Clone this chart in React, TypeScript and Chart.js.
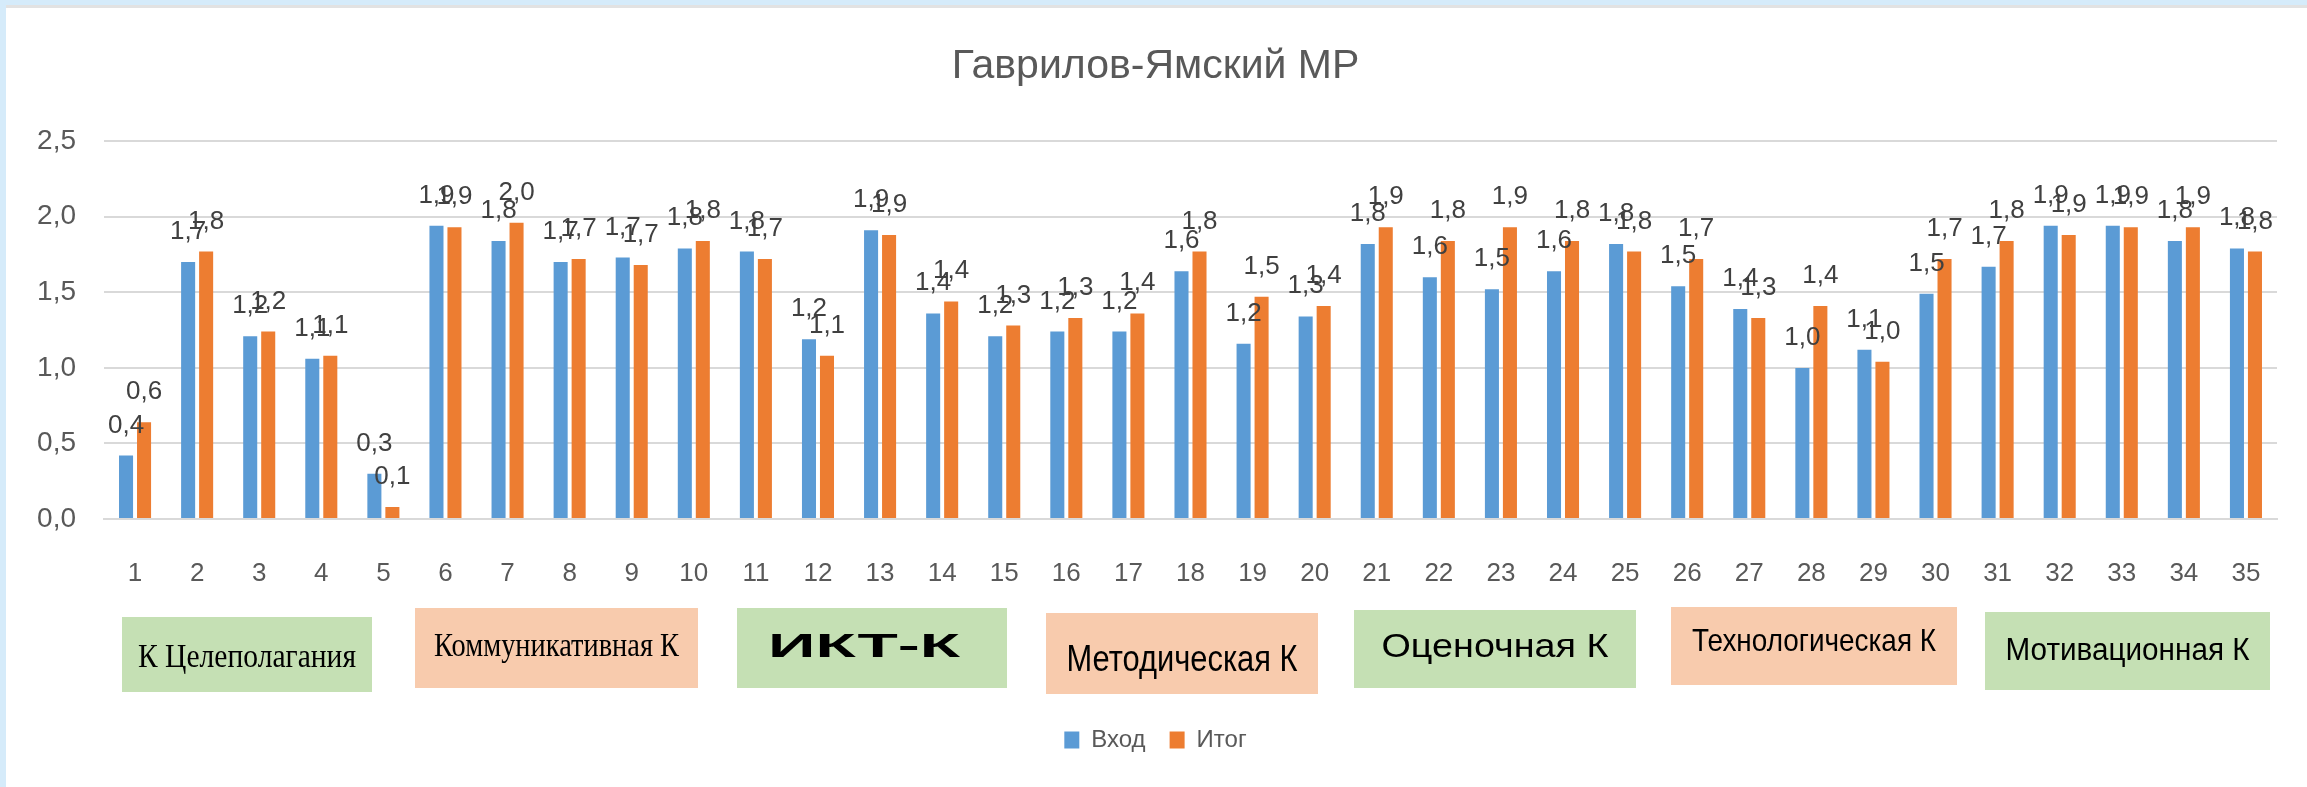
import React, { useEffect, useRef } from 'react';
import { Chart, registerables } from 'chart.js';

Chart.register(...registerables);

// ---- data ----
const categories = [
  '1', '2', '3', '4', '5', '6', '7', '8', '9', '10',
  '11', '12', '13', '14', '15', '16', '17', '18', '19', '20',
  '21', '22', '23', '24', '25', '26', '27', '28', '29', '30',
  '31', '32', '33', '34', '35',
];

const vhodValues = [
  0.42, 1.70, 1.21, 1.06, 0.30, 1.94, 1.84, 1.70, 1.73, 1.79,
  1.77, 1.19, 1.91, 1.36, 1.21, 1.24, 1.24, 1.64, 1.16, 1.34,
  1.82, 1.60, 1.52, 1.64, 1.82, 1.54, 1.39, 1.00, 1.12, 1.49,
  1.67, 1.94, 1.94, 1.84, 1.79,
];

const itogValues = [
  0.64, 1.77, 1.24, 1.08, 0.08, 1.93, 1.96, 1.72, 1.68, 1.84,
  1.72, 1.08, 1.88, 1.44, 1.28, 1.33, 1.36, 1.77, 1.47, 1.41,
  1.93, 1.84, 1.93, 1.84, 1.77, 1.72, 1.33, 1.41, 1.04, 1.72,
  1.84, 1.88, 1.93, 1.93, 1.77,
];

const seriesNames = ['Вход', 'Итог'];
const chartTitle = 'Гаврилов-Ямский МР';

const groupNames = [
  'К Целеполагания',
  'Коммуникативная К',
  'ИКТ-К',
  'Методическая К',
  'Оценочная К',
  'Технологическая К',
  'Мотивационная К',
];

// ---- styling / layout (not data) ----
const BLUE = '#5B9BD5';
const ORANGE = '#ED7D31';
const GREEN_BOX = '#C5E0B4';
const PEACH_BOX = '#F8CBAD';
const SANS = '"Liberation Sans", Arial, sans-serif';
const SERIF = '"Liberation Serif", "Times New Roman", serif';

const groupLayout = [
  { x0: 122, x1: 372, y0: 617, y1: 692, fill: GREEN_BOX, family: SERIF, size: 34, weight: 'normal', capY: 655, width: 218, dx: 0 },
  { x0: 415, x1: 698, y0: 608, y1: 688, fill: PEACH_BOX, family: SERIF, size: 34, weight: 'normal', capY: 644, width: 245, dx: 0 },
  { x0: 737, x1: 1007, y0: 608, y1: 688, fill: GREEN_BOX, family: SANS, size: 34, weight: 'bold', capY: 645, width: 192, dx: -8 },
  { x0: 1046, x1: 1318, y0: 613, y1: 694, fill: PEACH_BOX, family: SANS, size: 36, weight: 'normal', capY: 658, width: 231, dx: 0 },
  { x0: 1354, x1: 1636, y0: 610, y1: 688, fill: GREEN_BOX, family: SANS, size: 33, weight: 'normal', capY: 645, width: 227, dx: 0 },
  { x0: 1671, x1: 1957, y0: 607, y1: 685, fill: PEACH_BOX, family: SANS, size: 32, weight: 'normal', capY: 640, width: 244, dx: 0 },
  { x0: 1985, x1: 2270, y0: 612, y1: 690, fill: GREEN_BOX, family: SANS, size: 31, weight: 'normal', capY: 649, width: 244, dx: 0 },
];

const fmt = (v: number) => v.toFixed(1).replace('.', ',');

const valueLabelsPlugin = {
  id: 'valueLabels',
  afterDatasetsDraw(chart: any) {
    const ctx = chart.ctx;
    ctx.save();
    ctx.font = `26px ${SANS}`;
    ctx.fillStyle = '#404040';
    ctx.textAlign = 'center';
    ctx.textBaseline = 'alphabetic';
    chart.data.datasets.forEach((ds: any, i: number) => {
      const meta = chart.getDatasetMeta(i);
      meta.data.forEach((el: any, j: number) => {
        const v = ds.data[j];
        ctx.fillText(fmt(v), el.x, el.y - 23);
      });
    });
    ctx.restore();
  },
};

const groupBoxesPlugin = {
  id: 'groupBoxes',
  afterDraw(chart: any) {
    const ctx = chart.ctx;
    ctx.save();
    groupNames.forEach((name, i) => {
      const g = groupLayout[i];
      ctx.fillStyle = g.fill;
      ctx.fillRect(g.x0, g.y0, g.x1 - g.x0, g.y1 - g.y0);
      ctx.font = `${g.weight} ${g.size}px ${g.family}`;
      const w = ctx.measureText(name).width;
      const sx = g.width / w;
      const cx = (g.x0 + g.x1) / 2 + g.dx;
      ctx.save();
      ctx.translate(cx, g.capY + g.size * 0.35);
      ctx.scale(sx, 1);
      ctx.fillStyle = '#000000';
      ctx.textAlign = 'center';
      ctx.textBaseline = 'alphabetic';
      ctx.fillText(name, 0, 0);
      ctx.restore();
    });
    ctx.restore();
  },
};

export default function App() {
  const canvasRef = useRef<HTMLCanvasElement | null>(null);

  useEffect(() => {
    if (!canvasRef.current) return;
    const chart = new Chart(canvasRef.current, {
      type: 'bar',
      data: {
        labels: categories,
        datasets: [
          {
            label: seriesNames[0],
            data: vhodValues,
            backgroundColor: BLUE,
            borderWidth: 0,
            barPercentage: 0.78,
            categoryPercentage: 0.58,
          },
          {
            label: seriesNames[1],
            data: itogValues,
            backgroundColor: ORANGE,
            borderWidth: 0,
            barPercentage: 0.78,
            categoryPercentage: 0.58,
          },
        ],
      },
      options: {
        responsive: false,
        animation: false,
        devicePixelRatio: 1,
        layout: { padding: { top: 0, right: 30, bottom: 25, left: 34 } },
        plugins: {
          title: {
            display: true,
            text: chartTitle,
            color: '#595959',
            font: { family: SANS, size: 41, weight: 'normal' },
            padding: { top: 42, bottom: 50 },
          },
          legend: {
            display: true,
            position: 'bottom',
            labels: {
              color: '#595959',
              font: { family: SANS, size: 24 },
              boxWidth: 15,
              boxHeight: 17,
              padding: 24,
            },
          },
          tooltip: { enabled: false },
        },
        scales: {
          x: {
            grid: { display: false, drawTicks: false },
            border: { display: true, color: '#d9d9d9', width: 2 },
            ticks: {
              color: '#595959',
              font: { family: SANS, size: 26 },
              padding: 39,
              maxRotation: 0,
              autoSkip: false,
            },
            afterFit: (s: any) => { s.height = 185; },
          },
          y: {
            min: 0,
            max: 2.5,
            grid: { color: '#d9d9d9', lineWidth: 2, drawTicks: false },
            border: { display: false },
            ticks: {
              stepSize: 0.5,
              color: '#595959',
              font: { family: SANS, size: 28 },
              padding: 28,
              callback: (v: any) => fmt(Number(v)),
            },
            afterFit: (s: any) => { s.width = 70; },
          },
        },
      },
      plugins: [valueLabelsPlugin, groupBoxesPlugin],
    });
    return () => chart.destroy();
  }, []);

  return (
    <div style={{ position: 'absolute', left: 0, top: 0, width: 2307, height: 787, overflow: 'hidden', background: '#d5ebfa' }}>
      <div style={{ position: 'absolute', left: 6, top: 5, right: 0, bottom: 0, background: '#ffffff', borderTop: '3px solid #e2e2e2' }} />
      <canvas ref={canvasRef} width={2307} height={787} style={{ position: 'absolute', left: 0, top: 0 }} />
    </div>
  );
}
